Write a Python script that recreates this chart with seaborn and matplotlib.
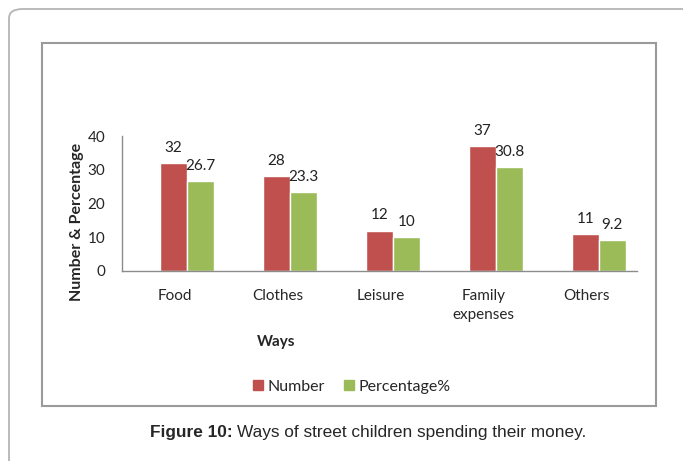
import numpy as np
import pandas as pd
import matplotlib.pyplot as plt
import seaborn as sns
from matplotlib.patches import FancyBboxPatch, Rectangle

# data
ways = ["Food", "Clothes", "Leisure", "Family\nexpenses", "Others"]
number = [32, 28, 12, 37, 11]
percentage = [26.7, 23.3, 10, 30.8, 9.2]
series = ["Number", "Percentage%"]
colors = ["#C0504D", "#9BBB59"]

df = pd.DataFrame({
    "Ways": ways * 2,
    "value": number + percentage,
    "series": [series[0]] * len(ways) + [series[1]] * len(ways),
})

sns.set_style("white")
plt.rcParams["font.family"] = ["Lato", "DejaVu Sans"]

W, H = 683, 461
fig = plt.figure(figsize=(W / 100, H / 100), dpi=100)

def px(x, y):
    return x / W, 1 - y / H

# outer rounded box and inner chart frame
fig.patches.append(FancyBboxPatch(px(9, 475), 700 / W, 466 / H,
                                  boxstyle="round,pad=0,rounding_size=0.02",
                                  transform=fig.transFigure, fill=False,
                                  edgecolor="#b5b5b5", lw=1.3))
fig.patches.append(Rectangle(px(42, 406), (656 - 42) / W, (406 - 43) / H,
                             transform=fig.transFigure, fill=False,
                             edgecolor="#9a9a9a", lw=1.5))

ax = fig.add_axes([122 / W, 1 - 271 / H, (637 - 122) / W, (271 - 136) / H])
sns.barplot(data=df, x="Ways", y="value", hue="series", palette=colors,
            width=0.52, saturation=1, ax=ax, legend=False)

for c in ax.containers:
    ax.bar_label(c, labels=[f"{v:g}" for v in c.datavalues], padding=6,
                 fontsize=11, color="#222222")

ax.set_ylim(0, 40)
ax.set_yticks([0, 10, 20, 30, 40])
ax.set_xlim(-0.63, 4.37)
ax.set_xticks(np.arange(len(ways)) - 0.12)
ax.set_xticklabels(ways, fontsize=11, linespacing=1.45)
ax.tick_params(axis="x", length=0, pad=13)
ax.tick_params(axis="y", length=0, pad=12, labelsize=11)
ax.set_xlabel("")
ax.set_ylabel("")
for s in ["top", "right"]:
    ax.spines[s].set_visible(False)
for s in ["left", "bottom"]:
    ax.spines[s].set_color("#8c8c8c")
    ax.spines[s].set_linewidth(1)

fig.text(*px(77, 222), "Number & Percentage", rotation=90, ha="center",
         va="center", fontsize=11.5, fontweight="bold")
fig.text(*px(276, 342), "Ways", ha="center", va="center", fontsize=11,
         fontweight="bold")

handles = [Rectangle((0, 0), 1, 1, color=c) for c in colors]
fig.legend(handles, series, loc="center", bbox_to_anchor=px(352, 387),
           ncol=2, frameon=False, fontsize=11.5, handlelength=0.6,
           handleheight=0.6, handletextpad=0.3, columnspacing=1.2)

cap_x, cap_y = px(150, 432)
t = fig.text(cap_x, cap_y, "Figure 10:", fontsize=12.4, fontweight="bold",
             family="Liberation Sans", va="center")
fig.canvas.draw()
bb = t.get_window_extent()
fig.text(bb.x1 / W + 4 / W, cap_y, "Ways of street children spending their money.",
         fontsize=12.4, family="Liberation Sans", va="center")

fig.savefig("out.png", dpi=100)
